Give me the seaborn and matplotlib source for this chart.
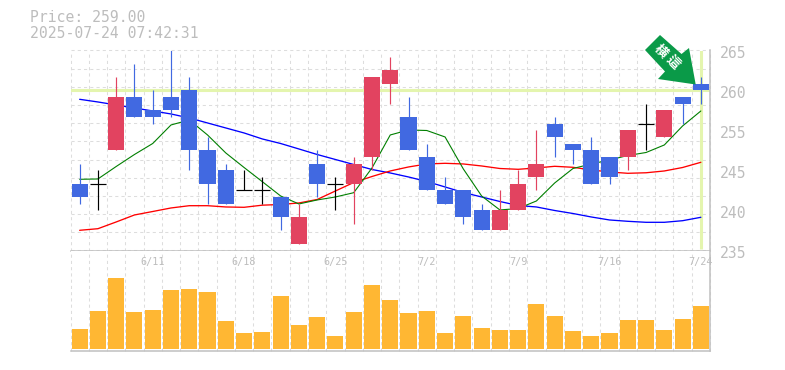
import numpy as np
import pandas as pd
import matplotlib
matplotlib.use("Agg")
import matplotlib.pyplot as plt
import seaborn as sns
from matplotlib.patches import Polygon

# candles, red = up, blue = down, black = doji
opens = [245, 245, 250, 258, 256, 258, 259, 250, 247, 244, 244, 243, 236, 248, 245, 245, 249, 260,
         255, 249, 244, 244, 241, 238, 241, 246, 254, 251, 250, 249, 249, 254, 252, 258, 260]
closes = [243, 245, 258, 255, 255, 256, 250, 245, 242, 244, 244, 240, 240, 245, 245, 248, 261, 262,
          250, 244, 242, 240, 238, 241, 245, 248, 252, 250, 245, 246, 253, 254, 256, 257, 259]
highs = [248, 247, 261, 263, 259, 265, 261, 252, 248, 247, 246, 243, 242, 250, 246, 249, 261, 264,
         258, 251, 246, 244, 242, 244, 247, 253, 255, 251, 252, 249, 253, 257, 256, 258, 261]
lows = [242, 241, 250, 255, 254, 255, 247, 242, 242, 244, 242, 238, 236, 243, 241, 239, 247, 257,
        250, 244, 242, 239, 238, 238, 241, 244, 249, 248, 245, 245, 247, 250, 252, 254, 257]
ma_short = [245.68, 245.73, 247.6, 249.4, 251.05, 253.83, 254.58, 252.33, 249.63, 247.45, 245.32, 243.18,
            241.98, 242.58, 243.03, 243.67, 247.38, 252.33, 253.08, 253.0, 252.03, 247.23, 243.18, 241.08,
            241.3, 242.43, 245.13, 247.3, 247.98, 248.58, 249.25, 249.7, 250.83, 253.68, 255.93]
ma_mid = [238.03, 238.27, 239.28, 240.33, 240.85, 241.38, 241.72, 241.72, 241.53, 241.48, 241.8, 241.9,
          242.13, 242.65, 243.93, 245.2, 246.1, 246.93, 247.53, 247.98, 248.08, 247.98, 247.68, 247.3,
          247.18, 247.38, 247.63, 247.48, 247.08, 246.78, 246.58, 246.66, 246.93, 247.45, 248.23]
ma_long = [257.68, 257.28, 256.83, 256.38, 255.93, 255.48, 254.88, 254.13, 253.38, 252.63, 251.73, 251.05,
           250.23, 249.4, 248.65, 247.9, 247.15, 246.63, 246.03, 245.35, 244.53, 243.7, 243.03, 242.35,
           241.75, 241.53, 241.0, 240.55, 240.03, 239.58, 239.38, 239.23, 239.23, 239.47, 239.98]
volumes = [20, 38, 71, 37, 39, 59, 60, 57, 28, 16, 17, 53, 24, 32, 13, 37, 64, 49,
           36, 38, 16, 33, 21, 19, 19, 45, 33, 18, 13, 16, 29, 29, 19, 30, 43]
date_labels = ["6/11", "6/18", "6/25", "7/2", "7/9", "7/16", "7/24"]
date_index = [4, 9, 14, 19, 24, 29, 34]
price_labels = ["265", "260", "255", "245", "240", "235"]
current_price = 259.0

RED = "#e24360"
BLUE = "#4169e1"
GREY = "#c0c0c0"
TEXT = "#bdbdbd"
HILITE = "#e4f5ae"

df = pd.DataFrame({"day": range(len(opens)), "open": opens, "close": closes, "high": highs,
                   "low": lows, "short": ma_short, "mid": ma_mid, "long": ma_long, "volume": volumes})

sns.set_theme(style="white")
plt.rcParams["font.family"] = ["DejaVu Sans Mono", "Noto Sans CJK JP"]

W, H = 785, 370
fig = plt.figure(figsize=(W / 100, H / 100), dpi=100)
ax = fig.add_axes([70.5 / W, 1 - 250.5 / H, 639.5 / W, 200 / H])
vol = fig.add_axes([70.5 / W, 1 - 350.5 / H, 639.5 / W, 100 / H])


def color_of(row):
    if row["close"] > row["open"]:
        return RED
    if row["close"] < row["open"]:
        return BLUE
    return "black"


xlim = (-0.5, len(df) - 0.5)
for a in (ax, vol):
    a.set_xlim(xlim)
    a.set_xticks(np.arange(len(df) + 1) - 0.5)
    a.tick_params(length=0, labelbottom=False, labelleft=False, labelright=False)
    a.grid(True, axis="x", color="#dddddd", lw=0.75, ls=(0, (3, 3)), zorder=0)
    a.set_axisbelow(True)
    a.spines["left"].set_visible(False)
    a.spines["top"].set_visible(False)
    for s in ("bottom", "right"):
        a.spines[s].set_color(GREY)
        a.spines[s].set_linewidth(1.1)

# price panel
ax.set_ylim(235, 265)
ax.set_yticks(np.linspace(235, 265, 12))
ax.grid(True, axis="y", color="#dddddd", lw=0.75, ls=(0, (3, 3)), zorder=0)
ax.axhline(current_price, color=HILITE, lw=2.2, zorder=1)
ax.plot([df["day"].iloc[-1]] * 2, [235.2, 265], color=HILITE, lw=2.2, zorder=1, solid_capstyle="butt")

sns.lineplot(data=df, x="day", y="long", color="#0000ff", lw=0.95, ax=ax, zorder=2, estimator=None)
sns.lineplot(data=df, x="day", y="mid", color="#ff0000", lw=0.95, ax=ax, zorder=2, estimator=None)
sns.lineplot(data=df, x="day", y="short", color="#007f00", lw=0.8, ax=ax, zorder=2, estimator=None)

for _, row in df.iterrows():
    c = color_of(row)
    ax.vlines(row["day"], row["low"], row["high"], color=c, lw=0.85, zorder=3)
    top = max(row["open"], row["close"])
    bot = min(row["open"], row["close"])
    if c == "black":
        ax.hlines(top, row["day"] - 0.44, row["day"] + 0.44, color="black", lw=0.85, zorder=4)
    else:
        ax.bar(row["day"], top - bot, bottom=bot, width=0.88, color=c, linewidth=0, zorder=4)

ax.set_xlabel("")
ax.set_ylabel("")
ax.set_xlim(xlim)
ax.set_ylim(235, 265)

# volume panel
sns.barplot(data=df, x="day", y="volume", native_scale=True, color="#ffb733", width=0.88,
            saturation=1, linewidth=0, ax=vol, zorder=3)
vol.set_xlim(xlim)
vol.set_ylim(-2, 98)
vol.set_xlabel("")
vol.set_ylabel("")
vol.set_xticks(np.arange(len(df) + 1) - 0.5)
vol.tick_params(length=0, labelbottom=False)
for i, lab in zip(date_index, date_labels):
    vol.text(i, 87, lab, color=TEXT, fontsize=7.3, ha="center", va="center", zorder=4, clip_on=False)

# edge gridlines sit on the axes border
for a in (ax, vol):
    for line in a.get_xgridlines() + a.get_ygridlines():
        line.set_clip_on(False)

# texts in pixel positions
for n, lab in enumerate(price_labels):
    fig.text(719.5 / W, 1 - (53.5 + 40 * n) / H, lab, color=TEXT, fontsize=10.6, ha="left", va="center")
fig.text(30 / W, 1 - 18 / H, f"Price: {current_price:.2f}", color=TEXT, fontsize=10.6, ha="left", va="center")
fig.text(30 / W, 1 - 33 / H, "2025-07-24 07:42:31", color=TEXT, fontsize=10.6, ha="left", va="center")

# signal arrow
arrow_px = [(660, 35), (681.5, 54), (689, 48), (695.7, 84.5), (658, 79), (665, 71.5), (645, 50)]
arrow = Polygon([(x / W, 1 - y / H) for x, y in arrow_px], closed=True, transform=fig.transFigure,
                facecolor="#0a9a48", edgecolor="none", zorder=10)
fig.add_artist(arrow)
for ch, x, y in [("横", 660.5, 51), ("這", 672.5, 62.5)]:
    fig.text(x / W, 1 - y / H, ch, color="white", fontsize=9.5, rotation=-45, fontweight="bold",
             family="Noto Sans CJK JP", ha="center", va="center", zorder=11)

fig.savefig("out.png", dpi=100)
